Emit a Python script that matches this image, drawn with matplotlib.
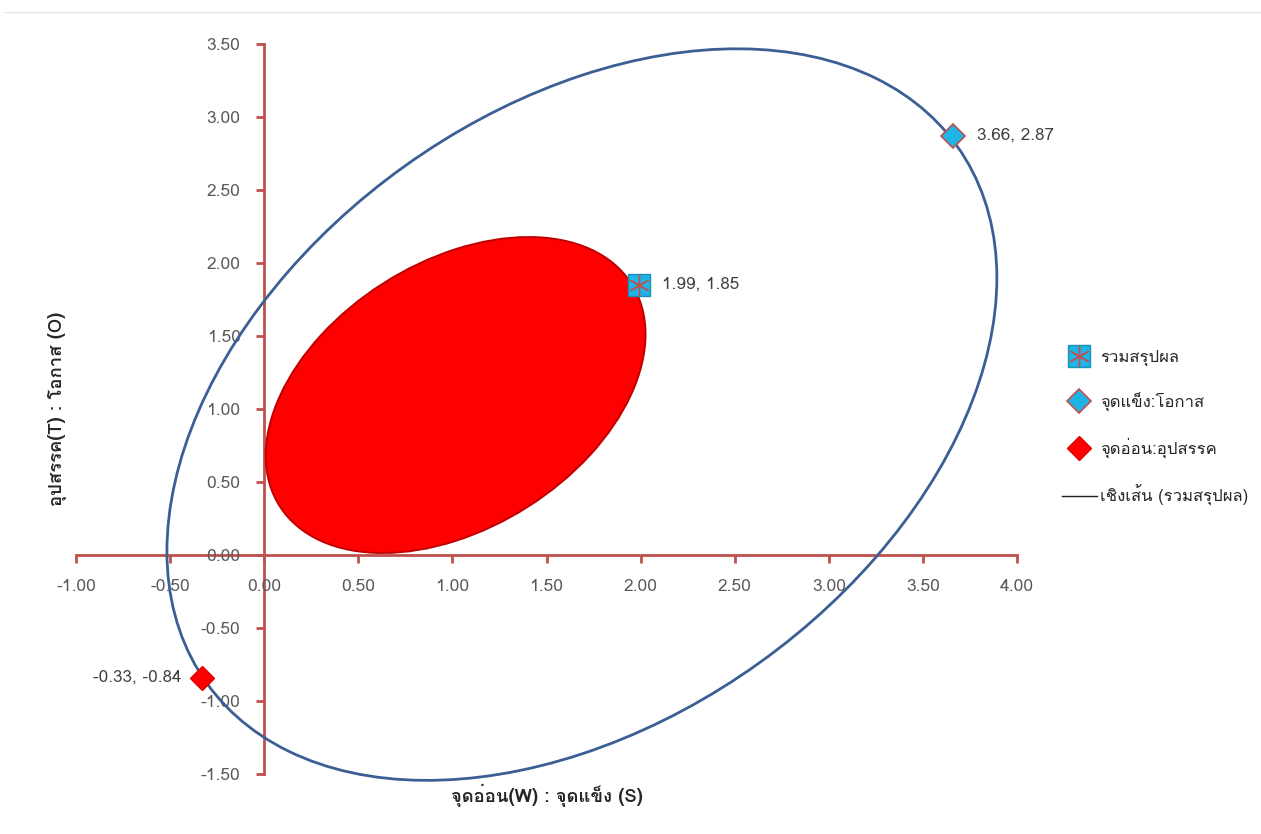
import matplotlib
matplotlib.use("Agg")
import matplotlib.pyplot as plt
from matplotlib import font_manager as fm
from matplotlib.patches import Circle
from matplotlib.lines import Line2D
from matplotlib.transforms import Affine2D
from matplotlib.legend_handler import HandlerTuple
import numpy as np

# ---------------- data ----------------
summary_x = [1.99]
summary_y = [1.85]
strength_x = [3.66]
strength_y = [2.87]
weak_x = [-0.33]
weak_y = [-0.84]

x_ticks = [-1.0, -0.5, 0.0, 0.5, 1.0, 1.5, 2.0, 2.5, 3.0, 3.5, 4.0]
y_ticks = [-1.5, -1.0, -0.5, 0.0, 0.5, 1.0, 1.5, 2.0, 2.5, 3.0, 3.5]

# ellipses: point = center + M @ [cos t, sin t]
outer_center = [1.688, 0.962]
outer_matrix = [[2.205, 0.0], [0.936, 2.324]]
inner_center = [1.017, 1.096]
inner_matrix = [[1.009, 0.0], [0.416, 0.999]]

legend_labels = ["รวมสรุปผล", "จุดแข็ง:โอกาส", "จุดอ่อน:อุปสรรค", "เชิงเส้น (รวมสรุปผล)"]
x_label = "จุดอ่อน(W) : จุดแข็ง (S)"
y_label = "อุปสรรค(T) : โอกาส (O)"

# ---------------- fonts ----------------
def find_thai_font():
    try:
        from fontTools.ttLib import TTFont
    except Exception:
        return None
    for f in fm.fontManager.ttflist:
        try:
            tt = TTFont(f.fname, fontNumber=0, lazy=True)
            cmap = tt.getBestCmap()
            if cmap and 0x0E01 in cmap and 0x0E38 in cmap and 0x0E2A in cmap:
                return f.name
        except Exception:
            continue
    return None

thai = find_thai_font()
families = ([thai] if thai else []) + ["Liberation Sans", "DejaVu Sans"]
plt.rcParams["font.family"] = families
plt.rcParams["axes.unicode_minus"] = False

# ---------------- figure ----------------
fig = plt.figure(figsize=(12.61, 8.34), dpi=100)
ax = fig.add_axes([0.0603, 0.0719, 0.7462, 0.8753])
ax.set_xlim(-1.0, 4.0)
ax.set_ylim(-1.5, 3.5)

axis_col = "#C0504D"
for s in ["top", "right"]:
    ax.spines[s].set_visible(False)
ax.spines["left"].set_position(("data", 0))
ax.spines["bottom"].set_position(("data", 0))
for s in ["left", "bottom"]:
    ax.spines[s].set_color(axis_col)
    ax.spines[s].set_linewidth(2.0)
    ax.spines[s].set_zorder(1)

ax.set_xticks(x_ticks)
ax.set_yticks(y_ticks)
ax.set_xticklabels([f"{v:.2f}" for v in x_ticks])
ax.set_yticklabels([f"{v:.2f}" for v in y_ticks])
ax.tick_params(axis="both", direction="out", length=6, width=2.0, color=axis_col,
               labelcolor="#595959", labelsize=12.5, pad=11)

# ellipses
M_out = Affine2D(np.array([[outer_matrix[0][0], outer_matrix[0][1], outer_center[0]],
                           [outer_matrix[1][0], outer_matrix[1][1], outer_center[1]],
                           [0, 0, 1]]))
M_in = Affine2D(np.array([[inner_matrix[0][0], inner_matrix[0][1], inner_center[0]],
                          [inner_matrix[1][0], inner_matrix[1][1], inner_center[1]],
                          [0, 0, 1]]))
inner = Circle((0, 0), 1, transform=M_in + ax.transData, facecolor="#FF0000",
               edgecolor="#C00000", linewidth=1.4, zorder=2, clip_on=False)
outer = Circle((0, 0), 1, transform=M_out + ax.transData, facecolor="none",
               edgecolor="#3B5F94", linewidth=2.0, zorder=3, clip_on=False)
ax.add_patch(inner)
ax.add_patch(outer)

# series
sq, = ax.plot(summary_x, summary_y, linestyle="none", marker="s", markersize=16,
              markerfacecolor="#1FB4E6", markeredgecolor="#1A8FB8", markeredgewidth=1, zorder=5)
star, = ax.plot(summary_x, summary_y, linestyle="none", marker=(6, 2, 0), markersize=15,
                markeredgecolor="#C0504D", markeredgewidth=1.0, zorder=6)
dia1, = ax.plot(strength_x, strength_y, linestyle="none", marker="D", markersize=12,
                markerfacecolor="#1FB4E6", markeredgecolor="#C0504D", markeredgewidth=1.2, zorder=5)
dia2, = ax.plot(weak_x, weak_y, linestyle="none", marker="D", markersize=12,
                markerfacecolor="#FF0000", markeredgecolor="#E00000", markeredgewidth=1.0, zorder=5)
trend, = ax.plot([], [], color="#1F1F1F", linewidth=1.0)

lab_col = "#404040"
lab_size = 12.3
ax.annotate(f"{summary_x[0]:.2f}, {summary_y[0]:.2f}", (summary_x[0], summary_y[0]),
            xytext=(17, 0), textcoords="offset points", ha="left", va="center",
            fontsize=lab_size, color=lab_col)
ax.annotate(f"{strength_x[0]:.2f}, {strength_y[0]:.2f}", (strength_x[0], strength_y[0]),
            xytext=(17, 0), textcoords="offset points", ha="left", va="center",
            fontsize=lab_size, color=lab_col)
ax.annotate(f"{weak_x[0]:.2f}, {weak_y[0]:.2f}", (weak_x[0], weak_y[0]),
            xytext=(-15, 0), textcoords="offset points", ha="right", va="center",
            fontsize=lab_size, color=lab_col)

ax.set_xlabel(x_label, fontsize=13.3, fontweight="bold", color="#262626", va="center")
ax.xaxis.set_label_coords(0.5, -0.029)
ax.set_ylabel(y_label, fontsize=13.3, fontweight="bold", color="#262626", va="center")
ax.yaxis.set_label_coords(-0.020, 0.5)

leg = fig.legend([(sq, star), dia1, dia2, trend], legend_labels,
                 handler_map={tuple: HandlerTuple(ndivide=1)},
                 loc="center left", bbox_to_anchor=(0.842, 0.487), frameon=False,
                 borderaxespad=0.0, borderpad=0.0,
                 fontsize=12, labelspacing=1.6, handlelength=2.1, handletextpad=0.2,
                 labelcolor="#262626")

fig.add_artist(Line2D([0.003, 1.0], [0.9856, 0.9856], color="#E6E6E6", linewidth=1.0))

fig.savefig("out.png", dpi=100, facecolor="white")
